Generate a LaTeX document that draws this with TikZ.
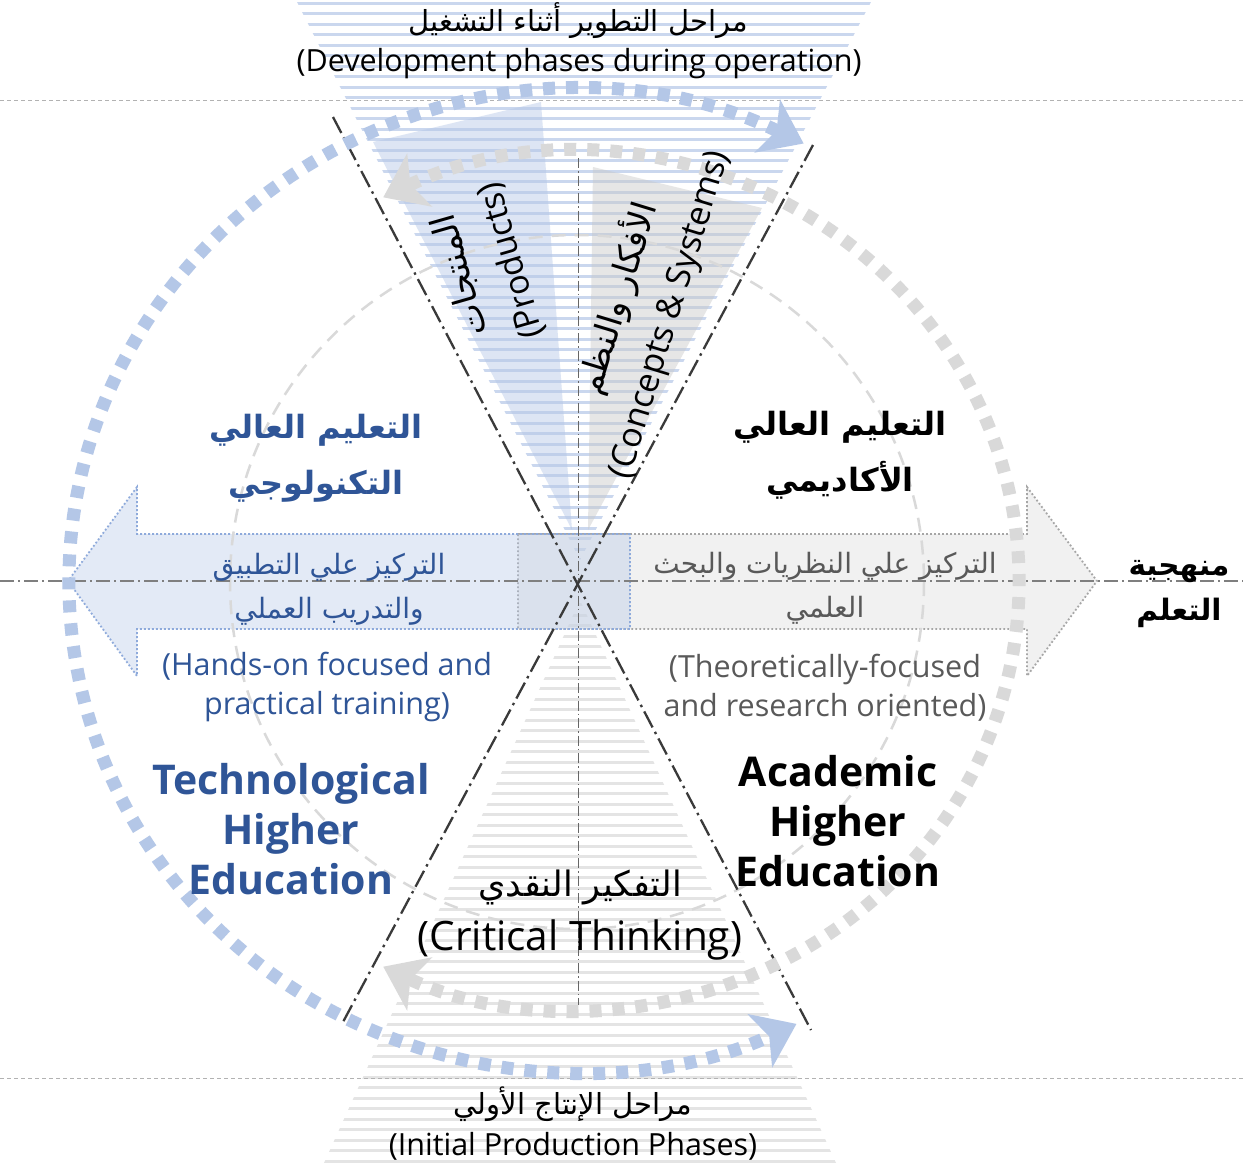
\documentclass[tikz,border=0pt]{standalone}
\usepackage{fontspec}
\setmainfont{Open Sans}
\newfontfamily\arabicfont[Script=Arabic]{DejaVu Sans}
\TeXXeTstate=1
\usetikzlibrary{arrows.meta}
\definecolor{stripeblue}{HTML}{CAD7EE}
\definecolor{stripegray}{HTML}{E4E4E4}
\definecolor{wedgeblue}{HTML}{B4C7E7}
\definecolor{wedgegray}{HTML}{C8C8C8}
\definecolor{dotblue}{HTML}{B4C7E7}
\definecolor{dotgray}{HTML}{D9D9D9}
\definecolor{txtblue}{HTML}{2F5597}
\definecolor{txtgray}{HTML}{595959}
\definecolor{bandblue}{HTML}{B4C7E7}
\definecolor{bandgray}{HTML}{E0E0E0}
\definecolor{bandblueline}{HTML}{8EAADB}
\definecolor{bandgrayline}{HTML}{A6A6A6}
\definecolor{axisgray}{HTML}{7F7F7F}
\definecolor{diagline}{HTML}{3A3A3A}
\newcommand{\artxt}[1]{{\arabicfont\beginR #1\endR}}
\begin{document}
\begin{tikzpicture}[x=1pt,y=-1pt,
  stripeB/.style={draw=stripeblue, line width=3pt},
  stripeG/.style={draw=stripegray, line width=3pt},
  thindash/.style={draw=black!30, line width=0.9pt, dash pattern=on 4pt off 3pt},
  bandB/.style={fill=bandblue, fill opacity=0.36, draw=bandblueline, line width=1.8pt, dash pattern=on 1.8pt off 2.2pt},
  bandG/.style={fill=bandgray, fill opacity=0.45, draw=bandgrayline, line width=1.8pt, dash pattern=on 1.8pt off 2.2pt},
  innerc/.style={draw=black!15, line width=2.5pt, dash pattern=on 14pt off 9pt},
  axisH/.style={draw=axisgray, line width=1.4pt, dash pattern=on 14pt off 4pt on 2pt off 4pt},
  axisV/.style={draw=black!60, line width=1pt, dash pattern=on 10pt off 3pt on 1.5pt off 3pt},
  diag/.style={draw=diagline, line width=2.3pt, dash pattern=on 18pt off 5pt on 2.5pt off 5pt},
  dotarcB/.style={draw=dotblue, line width=13pt, dash pattern=on 12pt off 11pt},
  dotarcG/.style={draw=dotgray, line width=13pt, dash pattern=on 12pt off 11pt},
  bigtips/.style={arrows={Stealth[length=40pt,width=58pt,inset=10pt]-Stealth[length=40pt,width=58pt,inset=10pt]}},
  enT/.style={font=\fontsize{30.5}{39}\selectfont, align=center, inner sep=0pt},
  enC/.style={font=\fontsize{40.5}{46}\selectfont, align=center, inner sep=0pt},
  enBig/.style={font=\fontsize{41}{50}\selectfont\bfseries, align=center, inner sep=0pt},
  arT/.style={font=\fontsize{29}{40}\selectfont, align=center, inner sep=0pt},
  arC/.style={font=\fontsize{35}{40}\selectfont, align=center, inner sep=0pt},
  arBand/.style={font=\fontsize{28}{44}\selectfont, align=center, inner sep=0pt},
  arTitle/.style={font=\fontsize{32}{56}\selectfont\bfseries, align=center, inner sep=0pt},
  arB/.style={font=\fontsize{29.5}{45}\selectfont\bfseries, align=center, inner sep=0pt},
  rotT/.style={font=\fontsize{34}{53}\selectfont, align=center, inner sep=0pt}
]
\useasboundingbox (0,0) rectangle (1243,1163);
% canvas
\fill[white] (0,0) rectangle (1243,1163);
\coordinate (C) at (577,582);
% hourglass stripes
\begin{scope}
  \clip (296,0) -- (872,0) -- (580,560) -- cycle;
  \foreach \k in {0,...,53} \draw[stripeB] (280,{3+10.5*\k}) -- (890,{3+10.5*\k});
\end{scope}
\begin{scope}
  \clip (580,600) -- (836,1163) -- (324,1163) -- cycle;
  \foreach \k in {0,...,54} \draw[stripeG] (300,{1161-10.5*\k}) -- (860,{1161-10.5*\k});
\end{scope}
% wedges
\fill[wedgeblue, opacity=0.45] (373,142) -- (541,102) -- (572,530) -- cycle;
\fill[wedgegray, opacity=0.45] (593,167) -- (762,208) -- (588,530) -- cycle;
% thin horizontal dashed lines
\draw[thindash] (0,100) -- (1243,100);
\draw[thindash] (0,1078) -- (1243,1078);
% band arrows
\filldraw[bandG] (518,534) -- (1027,534) -- (1027,487) -- (1097,581) -- (1027,676) -- (1027,629) -- (518,629) -- cycle;
\filldraw[bandB] (630,534) -- (137,534) -- (137,487) -- (68,581) -- (137,676) -- (137,629) -- (630,629) -- cycle;
% inner dashed circle
\draw[innerc] (C) circle[radius=347];
% axes
\coordinate (vTop) at (578,158);
\coordinate (vBot) at (578,1005);
\coordinate (hL) at (0,581);
\coordinate (hR) at (1243,581);
\draw[axisV] (vTop) -- (vBot);
\draw[axisH] (hL) -- (hR);
% diagonals
\coordinate (dA1) at (333,117);
\coordinate (dA2) at (811,1030);
\coordinate (dB1) at (813,145);
\coordinate (dB2) at (343,1022);
\draw[diag] (dA1) -- (dA2);
\draw[diag] (dB1) -- (dB2);
% dotted arcs
\draw[dotarcB, bigtips] (C) ++(-63.5:508 and 490) arc[start angle=-63.5, end angle=-295.6, x radius=508, y radius=490];
\draw[dotarcG, bigtips] (C) ++(-116:442 and 428) arc[start angle=-116, end angle=116, x radius=442, y radius=428];
% texts
\node[arT] (topAr) at (578,21) {\artxt{مراحل التطوير أثناء التشغيل}};
\node[enT] (topEn) at (579,64) {(Development phases during operation)};
\node[arT] (botAr) at (573,1104) {\artxt{مراحل الإنتاج الأولي}};
\node[enT] (botEn) at (573,1146) {(Initial Production Phases)};
\node[arB] (method) at (1179,594) {\artxt{منهجية}\\\artxt{التعلم}};
\node[arTitle, text=txtblue] (techAr) at (316,458) {\artxt{التعليم العالي}\\\artxt{التكنولوجي}};
\node[arTitle] (acadAr) at (840,455) {\artxt{التعليم العالي}\\\artxt{الأكاديمي}};
\node[arBand, text=txtblue] (bandL) at (329,589) {\artxt{التركيز علي التطبيق}\\\artxt{والتدريب العملي}};
\node[arBand, text=txtgray] (bandR) at (825,588) {\artxt{التركيز علي النظريات والبحث}\\\artxt{العلمي}};
\node[enT, text=txtblue] (handsOn) at (327,687) {(Hands-on focused and\\practical training)};
\node[enT, text=txtgray] (theo) at (825,688) {(Theoretically-focused\\and research oriented)};
\node[enBig, text=txtblue] (techEn) at (291,829) {Technological\\Higher\\Education};
\node[enBig] (acadEn) at (838,821) {Academic\\Higher\\Education};
\node[arC] (critAr) at (580,887) {\artxt{التفكير النقدي}};
\node[enC] (critEn) at (580,940) {(Critical Thinking)};
\node[rotT, rotate=106] (prod) at (486,268) {\artxt{المنتجات}\\(Products)};
\node[rotT, rotate=73] (conc) at (642,306) {\artxt{الأفكار والنظم}\\(Concepts \& Systems)};
\end{tikzpicture}
\end{document}
